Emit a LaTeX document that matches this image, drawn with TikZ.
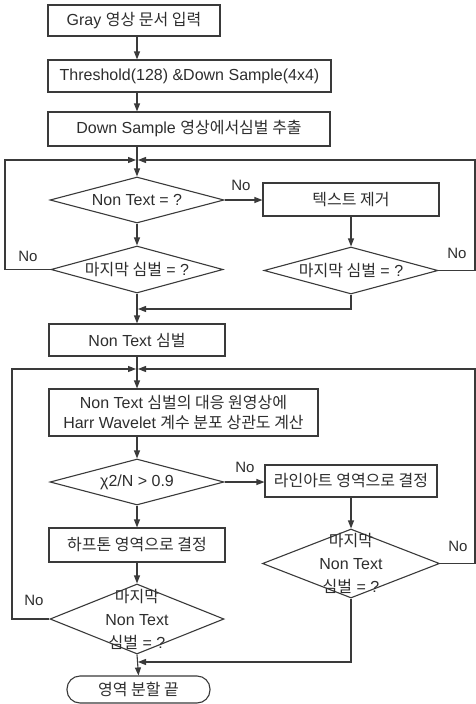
\documentclass[tikz,border=0pt]{standalone}
\usepackage{fontspec}
\setmainfont{Liberation Sans}
\newfontfamily\kr{Noto Sans CJK KR}
\usetikzlibrary{shapes.geometric,arrows.meta}
\definecolor{ln}{HTML}{3A3A3A}
\definecolor{tx}{HTML}{2E2E2E}
\begin{document}
\begin{tikzpicture}[x=1pt,y=-1pt,
  box/.style={draw=ln, line width=1.1pt, rectangle, inner sep=0pt, text=tx,
    align=center, font=\fontsize{16}{19.5}\selectfont},
  dia/.style={draw=ln, line width=1.1pt, diamond, inner sep=0pt},
  dtext/.style={text=tx, align=center, inner sep=0pt, font=\fontsize{16}{23}\selectfont},
  term/.style={draw=ln, line width=1.1pt, rectangle, rounded corners=13pt, inner sep=0pt,
    text=tx, font=\fontsize{16}{19}\selectfont},
  arr/.style={draw=ln, line width=1.1pt, -{Triangle[length=8pt,width=6pt]}},
  lab/.style={text=tx, inner sep=0pt, font=\fontsize{15}{18}\selectfont}]
\useasboundingbox[fill=white] (0,0) rectangle (476,704);
\coordinate (sp) at (137,0);
\coordinate (lx1) at (5,0);
\coordinate (lx2) at (12,0);
\coordinate (rx) at (475,0);

% boxes
\node[box, minimum width=172pt, minimum height=31pt] (b1) at (134,20.5) {Gray {\kr 영상 문서 입력}};
\node[box, minimum width=283pt, minimum height=32pt] (b2) at (189.5,76) {Threshold(128) \&Down Sample(4x4)};
\node[box, minimum width=282pt, minimum height=34pt] (b3) at (189,129) {Down Sample {\kr 영상에서심벌 추출}};
\node[dia, minimum width=174pt, minimum height=46pt] (d1) at (137,200) {};
\node[dtext] at (d1.center) {Non Text = ?};
\node[box, minimum width=176pt, minimum height=33pt] (b4) at (351,199.5) {\kr 텍스트 제거};
\node[dia, minimum width=172pt, minimum height=47pt] (d2) at (137,269.5) {};
\node[dtext] at (d2.center) {{\kr 마지막 심벌} = ?};
\node[dia, minimum width=174pt, minimum height=47pt] (d3) at (351,270.5) {};
\node[dtext] at (d3.center) {{\kr 마지막 심벌} = ?};
\node[box, minimum width=176pt, minimum height=32pt] (b5) at (137,340) {Non Text {\kr 심벌}};
\node[box, minimum width=269pt, minimum height=47pt] (b6) at (183.5,412.5) {Non Text {\kr 심벌의 대응 원영상에}\\Harr Wavelet {\kr 계수 분포 상관도 계산}};
\node[dia, minimum width=174pt, minimum height=46pt] (d4) at (137,482) {};
\node[dtext] at (d4.center) {χ2/N > 0.9};
\node[box, minimum width=172pt, minimum height=32pt] (b7) at (351,481) {\kr 라인아트 영역으로 결정};
\node[box, minimum width=176pt, minimum height=34pt] (b8) at (137,545) {\kr 하프톤 영역으로 결정};
\node[dia, minimum width=177pt, minimum height=69pt] (d5) at (351,563.5) {};
\node[dtext] at (d5.center) {{\kr 마지막}\\Non Text\\{\kr 심벌} = ?};
\node[dia, minimum width=174pt, minimum height=70pt] (d6) at (137,619) {};
\node[dtext] at (d6.center) {{\kr 마지막}\\Non Text\\{\kr 심벌} = ?};
\node[term, minimum width=143pt, minimum height=27pt] (t) at (138.5,689.5) {\kr 영역 분할 끝};

% merge points
\coordinate (m1) at (137,160);
\coordinate (m2) at (137,309);
\coordinate (m3) at (137,369);
\coordinate (m4) at (137,662);

% spine
\draw[arr] (b1.south -| sp) -- (b2.north -| sp);
\draw[arr] (b2.south -| sp) -- (b3.north -| sp);
\draw[arr] (b3.south -| sp) -- (d1.north);
\draw[arr] (d1.south) -- (d2.north);
\draw[arr] (d2.south) -- (b5.north);
\draw[arr] (d1.east) -- (d1.east -| b4.west);
\draw[arr] (b4.south) -- (d3.north);
\draw[arr] (b5.south) -- (b6.north -| sp);
\draw[arr] (b6.south -| sp) -- (d4.north);
\draw[arr] (d4.east) -- (d4.east -| b7.west);
\draw[arr] (d4.south) -- (b8.north);
\draw[arr] (b7.south -| d5) -- (d5.north);
\draw[arr] (b8.south) -- (d6.north);
\draw[arr] (d6.south) -- (t.north);

% loops
\draw[arr] (d2.west) -- (d2.west -| lx1) -- (m1 -| lx1) -- ([xshift=-1pt]m1);
\draw[arr] (d3.east) -- (d3.east -| rx) -- (m1 -| rx) -- ([xshift=1pt]m1);
\draw[arr] (d3.south) -- (m2 -| d3) -- ([xshift=1pt]m2);
\draw[arr] (d6.west) -- (d6.west -| lx2) -- (m3 -| lx2) -- ([xshift=-1pt]m3);
\draw[arr] (d5.east) -- (d5.east -| rx) -- (m3 -| rx) -- ([xshift=1pt]m3);
\draw[arr] (d5.south) -- (m4 -| d5) -- ([xshift=1pt]m4);

% labels
\node[lab] (n1) at (241,185) {No};
\node[lab] (n2) at (28,256) {No};
\node[lab] (n3) at (457,253) {No};
\node[lab] (n4) at (245,467) {No};
\node[lab] (n5) at (458,546) {No};
\node[lab] (n6) at (34,600) {No};
\end{tikzpicture}
\end{document}
